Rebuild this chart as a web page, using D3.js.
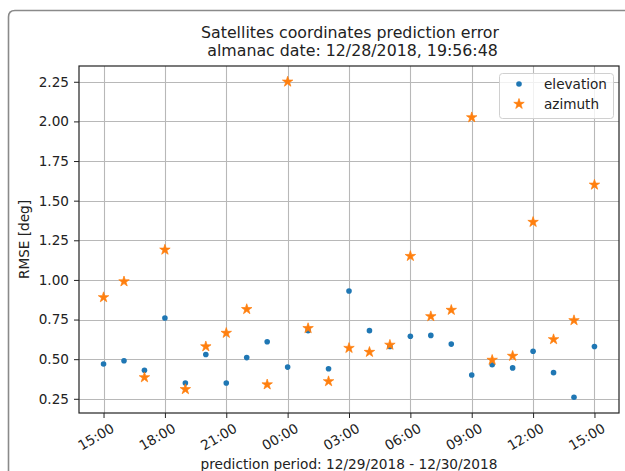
<!DOCTYPE html>
<html>
<head>
<meta charset="utf-8">
<script src="https://cdn.jsdelivr.net/npm/d3@7"></script>
<style>
  html, body { margin: 0; padding: 0; background: #fff; }
  svg { display: block; font-family: "DejaVu Sans", sans-serif; }
</style>
</head>
<body>
<svg id="chart" width="625" height="471"></svg>
<script>
// ---- data ----
const hours = [
  "2018-12-29 15:00","2018-12-29 16:00","2018-12-29 17:00","2018-12-29 18:00",
  "2018-12-29 19:00","2018-12-29 20:00","2018-12-29 21:00","2018-12-29 22:00",
  "2018-12-29 23:00","2018-12-30 00:00","2018-12-30 01:00","2018-12-30 02:00",
  "2018-12-30 03:00","2018-12-30 04:00","2018-12-30 05:00","2018-12-30 06:00",
  "2018-12-30 07:00","2018-12-30 08:00","2018-12-30 09:00","2018-12-30 10:00",
  "2018-12-30 11:00","2018-12-30 12:00","2018-12-30 13:00","2018-12-30 14:00",
  "2018-12-30 15:00"
];
const elevation = [0.47, 0.49, 0.43, 0.76, 0.35, 0.53, 0.35, 0.51, 0.61, 0.45, 0.68, 0.44,
  0.93, 0.68, 0.58, 0.645, 0.65, 0.595, 0.40, 0.465, 0.445, 0.55, 0.415, 0.26, 0.58];
const azimuth = [0.89, 0.99, 0.385, 1.19, 0.31, 0.58, 0.665, 0.815, 0.34, 2.25, 0.695, 0.36,
  0.57, 0.545, 0.59, 1.15, 0.77, 0.81, 2.025, 0.495, 0.52, 1.365, 0.625, 0.745, 1.60];
const yTickValues = [0.25, 0.50, 0.75, 1.00, 1.25, 1.50, 1.75, 2.00, 2.25];
const xTickLabels = ["2018-12-29 15:00","2018-12-29 18:00","2018-12-29 21:00","2018-12-30 00:00",
  "2018-12-30 03:00","2018-12-30 06:00","2018-12-30 09:00","2018-12-30 12:00","2018-12-30 15:00"];
const seriesNames = ["elevation", "azimuth"];
const titleLines = ["Satellites coordinates prediction error", " almanac date: 12/28/2018, 19:56:48"];
const xLabel = "prediction period: 12/29/2018 - 12/30/2018";
const yLabel = "RMSE [deg]";

// ---- layout ----
const parse = d3.timeParse("%Y-%m-%d %H:%M");
const dates = hours.map(parse);
const svg = d3.select("#chart");
const L = 79, R = 619, T = 66, B = 413;

const t0 = dates[0], t1 = dates[dates.length - 1];
const span = t1 - t0;
const x = d3.scaleTime()
  .domain([new Date(+t0 - 0.05 * span), new Date(+t1 + 0.05 * span)])
  .range([L, R]);
const allV = elevation.concat(azimuth);
const vmin = d3.min(allV), vmax = d3.max(allV);
const y = d3.scaleLinear()
  .domain([vmin - 0.05 * (vmax - vmin), vmax + 0.05 * (vmax - vmin)])
  .range([B, T]);

// outer frame
svg.append("path")
  .attr("d", "M8.5,480 L8.5,17 Q8.5,10.5 15,10.5 L640,10.5")
  .attr("fill", "none").attr("stroke", "#8a8a8a").attr("stroke-width", 1.6);

// grid
const xTicks = xTickLabels.map(parse);
const grid = svg.append("g").attr("stroke", "#b8b8b8").attr("stroke-width", 1.1);
grid.selectAll(".gx").data(xTicks).join("line")
  .attr("x1", d => Math.round(x(d)) + 0.5).attr("x2", d => Math.round(x(d)) + 0.5)
  .attr("y1", T).attr("y2", B);
grid.selectAll(".gy").data(yTickValues).join("line")
  .attr("y1", d => Math.round(y(d)) + 0.5).attr("y2", d => Math.round(y(d)) + 0.5)
  .attr("x1", L).attr("x2", R);

// points
const pts = svg.append("g");
pts.selectAll("circle").data(elevation).join("circle")
  .attr("cx", (d, i) => x(dates[i])).attr("cy", d => y(d))
  .attr("r", 2.8).attr("fill", "#1f77b4");
const star = d3.symbol().type(d3.symbolStar).size(34);
pts.selectAll("path.star").data(azimuth).join("path").attr("class", "star")
  .attr("d", star)
  .attr("transform", (d, i) => `translate(${x(dates[i])},${y(d)})`)
  .attr("fill", "#ff7f0e").attr("stroke", "#ff7f0e").attr("stroke-width", 0.7)
  .attr("stroke-linejoin", "round");

// axes
const xAxis = d3.axisBottom(x).tickValues(xTicks).tickFormat(d3.timeFormat("%H:%M"))
  .tickSize(5).tickPadding(4);
const yAxis = d3.axisLeft(y).tickValues(yTickValues).tickFormat(d3.format(".2f"))
  .tickSize(5).tickPadding(4);
const gx = svg.append("g").attr("transform", `translate(0,${B})`).call(xAxis);
const gy = svg.append("g").attr("transform", `translate(${L},0)`).call(yAxis);
[gx, gy].forEach(g => {
  g.select(".domain").remove();
  g.selectAll(".tick line").attr("stroke", "#222").attr("stroke-width", 1);
  g.selectAll(".tick text").attr("fill", "#222").style("font-size", "13.6px")
    .style("font-family", "DejaVu Sans");
});
gy.selectAll(".tick text").attr("x", -10);
gx.selectAll(".tick text")
  .attr("text-anchor", "end")
  .attr("dy", "0.71em")
  .attr("transform", "translate(2,2) rotate(-30)");

// spines
svg.append("rect").attr("x", L).attr("y", T).attr("width", R - L).attr("height", B - T)
  .attr("fill", "none").attr("stroke", "#222").attr("stroke-width", 1.2);

// title
svg.append("g").selectAll("text").data(titleLines).join("text")
  .attr("x", (L + R) / 2 + 1).attr("y", (d, i) => 38 + i * 18)
  .attr("text-anchor", "middle").style("font-size", "15.8px").attr("fill", "#222")
  .style("white-space", "pre")
  .text(d => d);

// axis labels
svg.append("text").attr("x", (L + R) / 2).attr("y", 469)
  .attr("text-anchor", "middle").style("font-size", "13.7px").attr("fill", "#222")
  .text(xLabel);
svg.append("text").attr("transform", `translate(29,${(T + B) / 2}) rotate(-90)`)
  .attr("text-anchor", "middle").style("font-size", "13.6px").attr("fill", "#222")
  .text(yLabel);

// legend
const lg = svg.append("g");
lg.append("rect").attr("x", 499.5).attr("y", 73.5).attr("width", 114).attr("height", 45)
  .attr("rx", 3).attr("fill", "#fff").attr("fill-opacity", 0.8)
  .attr("stroke", "#d0d0d0").attr("stroke-width", 1);
lg.append("circle").attr("cx", 519).attr("cy", 84).attr("r", 2.8).attr("fill", "#1f77b4");
lg.append("path").attr("d", star).attr("transform", "translate(519,104)")
  .attr("fill", "#ff7f0e").attr("stroke", "#ff7f0e").attr("stroke-width", 0.7)
  .attr("stroke-linejoin", "round");
lg.selectAll("text").data(seriesNames).join("text")
  .attr("x", 544).attr("y", (d, i) => 89 + i * 20)
  .style("font-size", "13.6px").attr("fill", "#222").text(d => d);
</script>
</body>
</html>
